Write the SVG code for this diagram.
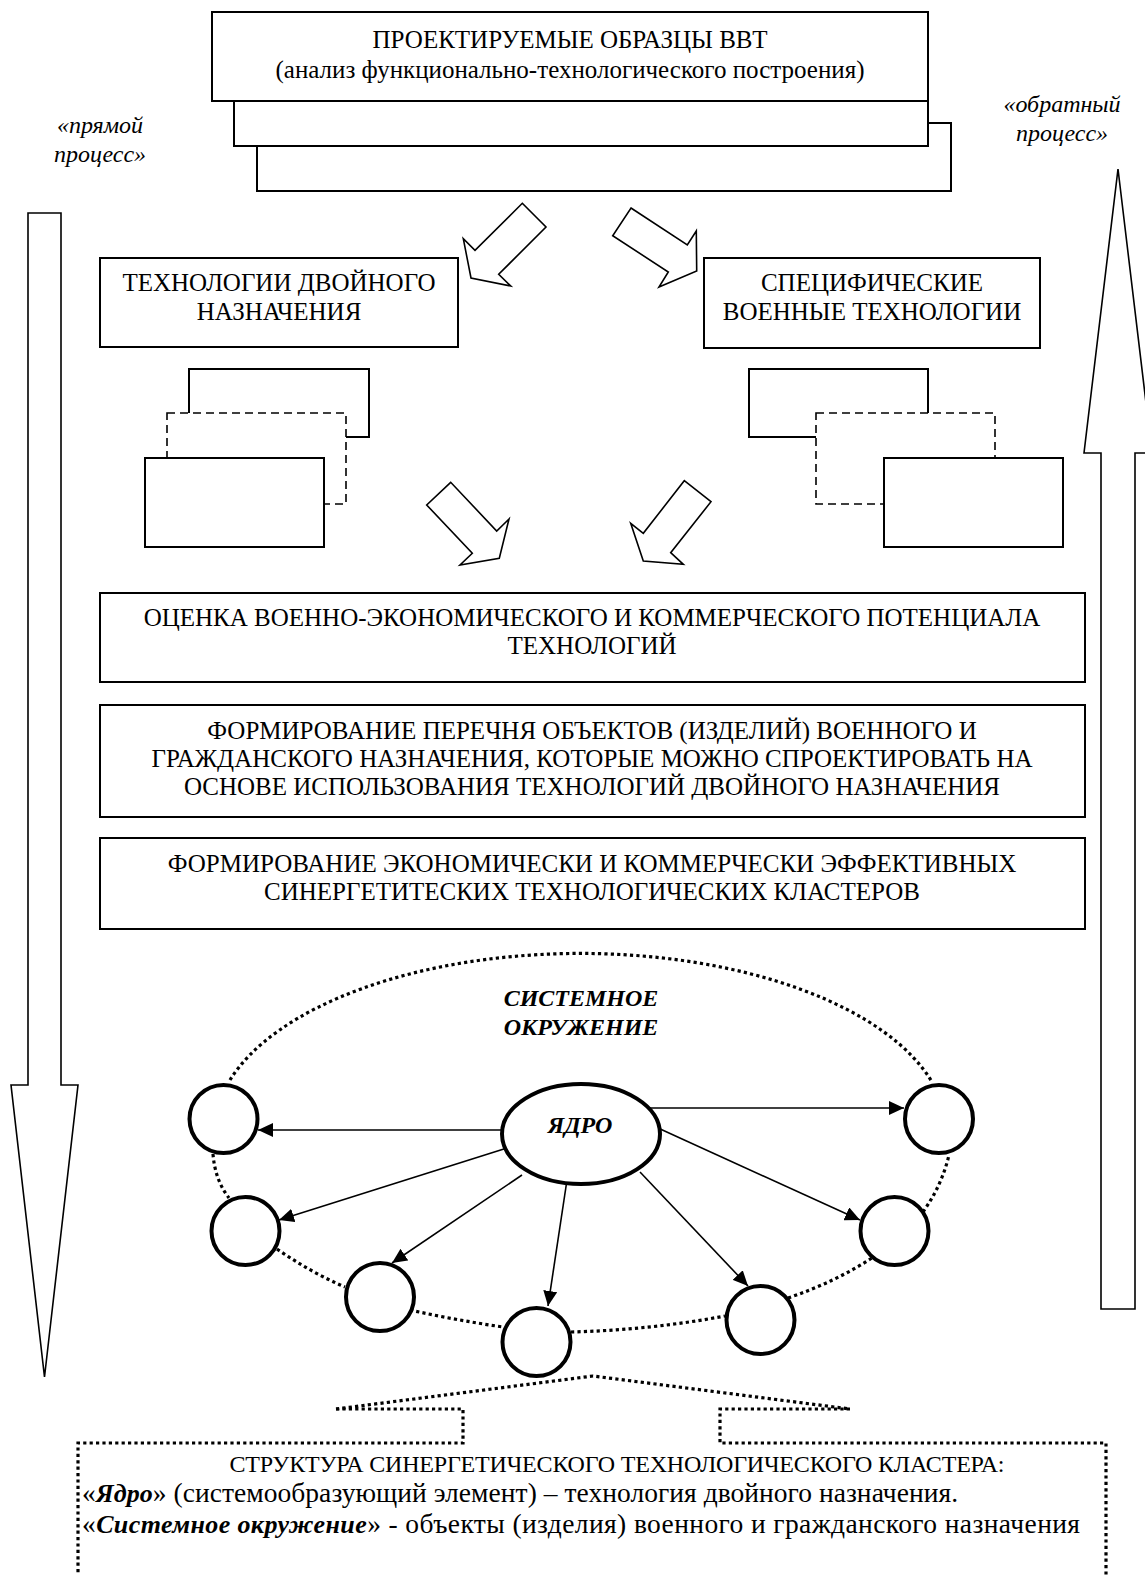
<svg xmlns="http://www.w3.org/2000/svg" width="1145" height="1575" viewBox="0 0 1145 1575">
<defs>
<style>
text{font-family:"Liberation Serif","Times New Roman",serif;fill:#000}
.t{font-size:24px;text-anchor:middle}
.n{font-size:25px;text-anchor:middle}
.it{font-style:italic}
.bi{font-weight:bold;font-style:italic}
.box{fill:#fff;stroke:#000;stroke-width:2}
.dbox{fill:#fff;stroke:#000;stroke-width:1.6;stroke-dasharray:8 5}
.blk{fill:#fff;stroke:#000;stroke-width:1.6;stroke-linejoin:miter}
.circ{fill:#fff;stroke:#000;stroke-width:4}
.dot{fill:none;stroke:#000;stroke-width:3.2;stroke-dasharray:3.2 3.2}
.edge{fill:none;stroke:#000;stroke-width:1.6}
.bt{font-size:27.5px}
.bb{font-size:26px;font-weight:bold;font-style:italic}
</style>
<marker id="ah" markerUnits="userSpaceOnUse" markerWidth="16" markerHeight="14" refX="15" refY="7" orient="auto">
<path d="M0,0 L15,7 L0,14 z" fill="#000"/>
</marker>
</defs>
<rect width="1145" height="1575" fill="#fff"/>

<g id="process-labels">
<text class="t it" x="100" y="133">«прямой</text>
<text class="t it" x="100" y="162">процесс»</text>
<text class="t it" x="1062" y="112">«обратный</text>
<text class="t it" x="1062" y="141">процесс»</text>
</g>

<g id="big-arrows">
<path id="arrow-down" class="blk" d="M28,213 L61,213 L61,1085 L78,1085 L44.5,1377 L11,1085 L28,1085 Z"/>
<path id="arrow-up" class="blk" d="M1101,1309 L1135,1309 L1135,453 L1152,453 L1118,169 L1084,453 L1101,453 Z"/>
</g>

<g id="node-vvt">
<rect class="box" x="257" y="123" width="694" height="68"/>
<rect class="box" x="234" y="80" width="694" height="66"/>
<rect class="box" x="212" y="12" width="716" height="89"/>
<text class="n" x="570" y="48">ПРОЕКТИРУЕМЫЕ ОБРАЗЦЫ ВВТ</text>
<text class="n" x="570" y="78">(анализ функционально-технологического построения)</text>
</g>

<g id="node-dual">
<rect class="box" x="100" y="258" width="358" height="89"/>
<text class="n" x="279" y="291">ТЕХНОЛОГИИ ДВОЙНОГО</text>
<text class="n" x="279" y="320">НАЗНАЧЕНИЯ</text>
</g>

<g id="node-military">
<rect class="box" x="704" y="258" width="336" height="90"/>
<text class="n" x="872" y="291">СПЕЦИФИЧЕСКИЕ</text>
<text class="n" x="872" y="320">ВОЕННЫЕ ТЕХНОЛОГИИ</text>
</g>

<g id="stack-left">
<rect class="box" x="189" y="369" width="180" height="68"/>
<rect class="dbox" x="167" y="413" width="179" height="91"/>
<rect class="box" x="145" y="458" width="179" height="89"/>
</g>

<g id="stack-right">
<rect class="box" x="749" y="369" width="179" height="68"/>
<rect class="dbox" x="816" y="413" width="179" height="91"/>
<rect class="box" x="884" y="458" width="179" height="89"/>
</g>

<g id="block-arrows">
<path class="blk" d="M522.3,203.3 L546,227 L498.7,274.3 L510.7,286 L471,278 L463.3,238.7 L475,250.3 Z"/>
<path class="blk" d="M631,208 L687.3,245 L696.3,231 L696.7,271 L659,287 L668.3,272 L612.7,235.7 Z"/>
<path class="blk" d="M450.7,482.3 L426.7,505 L472.3,553.3 L460,565 L499.3,558.3 L509,519 L496.7,531 Z"/>
<path class="blk" d="M684.3,480.7 L711,501.7 L670.7,552.7 L683.3,564.3 L643.3,561 L630.7,523.3 L643.3,533.3 Z"/>
</g>

<g id="node-assess">
<rect class="box" x="100" y="593" width="985" height="89"/>
<text class="n" x="592" y="626">ОЦЕНКА ВОЕННО-ЭКОНОМИЧЕСКОГО И КОММЕРЧЕСКОГО ПОТЕНЦИАЛА</text>
<text class="n" x="592" y="654">ТЕХНОЛОГИЙ</text>
</g>

<g id="node-list">
<rect class="box" x="100" y="705" width="985" height="112"/>
<text class="n" x="592" y="739">ФОРМИРОВАНИЕ ПЕРЕЧНЯ ОБЪЕКТОВ (ИЗДЕЛИЙ) ВОЕННОГО И</text>
<text class="n" x="592" y="767">ГРАЖДАНСКОГО НАЗНАЧЕНИЯ, КОТОРЫЕ МОЖНО СПРОЕКТИРОВАТЬ НА</text>
<text class="n" x="592" y="795">ОСНОВЕ ИСПОЛЬЗОВАНИЯ ТЕХНОЛОГИЙ ДВОЙНОГО НАЗНАЧЕНИЯ</text>
</g>

<g id="node-clusters">
<rect class="box" x="100" y="838" width="985" height="91"/>
<text class="n" x="592" y="872">ФОРМИРОВАНИЕ ЭКОНОМИЧЕСКИ И КОММЕРЧЕСКИ ЭФФЕКТИВНЫХ</text>
<text class="n" x="592" y="900">СИНЕРГЕТИТЕСКИХ ТЕХНОЛОГИЧЕСКИХ КЛАСТЕРОВ</text>
</g>

<g id="environment">
<path class="dot" d="M230,1080 A366,178 0 0 1 932,1082"/>
<path class="dot" d="M213,1154 Q215,1180 229,1198"/>
<path class="dot" d="M277,1249 Q310,1272 345,1287"/>
<path class="dot" d="M410,1310 Q455,1320 503,1327"/>
<path class="dot" d="M571,1332 Q650,1330 725,1316"/>
<path class="dot" d="M788,1298 Q835,1282 872,1258"/>
<path class="dot" d="M923,1212 Q942,1185 949,1155"/>
<text class="t bi" x="581" y="1006">СИСТЕМНОЕ</text>
<text class="t bi" x="581" y="1035">ОКРУЖЕНИЕ</text>
</g>

<g id="connectors">
<line class="edge" x1="502" y1="1130" x2="258" y2="1130" marker-end="url(#ah)"/>
<line class="edge" x1="507" y1="1148" x2="279" y2="1220" marker-end="url(#ah)"/>
<line class="edge" x1="522" y1="1175" x2="392" y2="1263" marker-end="url(#ah)"/>
<line class="edge" x1="567" y1="1180" x2="548" y2="1306" marker-end="url(#ah)"/>
<line class="edge" x1="640" y1="1172" x2="748" y2="1286" marker-end="url(#ah)"/>
<line class="edge" x1="658" y1="1128" x2="860" y2="1220" marker-end="url(#ah)"/>
<line class="edge" x1="637" y1="1108" x2="904" y2="1108" marker-end="url(#ah)"/>
</g>

<g id="node-core">
<ellipse class="circ" cx="581" cy="1134" rx="79" ry="50"/>
<text class="t bi" x="580" y="1133">ЯДРО</text>
</g>

<g id="node-l1"><circle class="circ" cx="223.5" cy="1119" r="34"/></g>
<g id="node-l2"><circle class="circ" cx="245.5" cy="1231" r="34"/></g>
<g id="node-l3"><circle class="circ" cx="380" cy="1297" r="34"/></g>
<g id="node-b"><circle class="circ" cx="536.5" cy="1342" r="34"/></g>
<g id="node-r3"><circle class="circ" cx="760.5" cy="1320" r="34"/></g>
<g id="node-r2"><circle class="circ" cx="894.5" cy="1231" r="34"/></g>
<g id="node-r1"><circle class="circ" cx="939" cy="1119" r="34"/></g>

<g id="node-structure">
<path class="dot" d="M336,1409 L593,1376 L850,1409"/>
<path class="dot" d="M336,1409 L463,1409 L463,1443 L78,1443 L78,1580"/>
<path class="dot" d="M850,1409 L720,1409 L720,1443 L1106,1443 L1106,1580"/>
<text x="617" y="1472" font-size="24" text-anchor="middle" textLength="775" lengthAdjust="spacing">СТРУКТУРА СИНЕРГЕТИЧЕСКОГО ТЕХНОЛОГИЧЕСКОГО КЛАСТЕРА:</text>
<text class="bt" x="82" y="1502" textLength="876" lengthAdjust="spacing">«<tspan class="bb">Ядро</tspan>» (системообразующий элемент) – технология двойного назначения.</text>
<text class="bt" x="82" y="1533" textLength="998" lengthAdjust="spacing">«<tspan class="bb">Системное окружение</tspan>» - объекты (изделия) военного и гражданского назначения</text>
</g>
</svg>
